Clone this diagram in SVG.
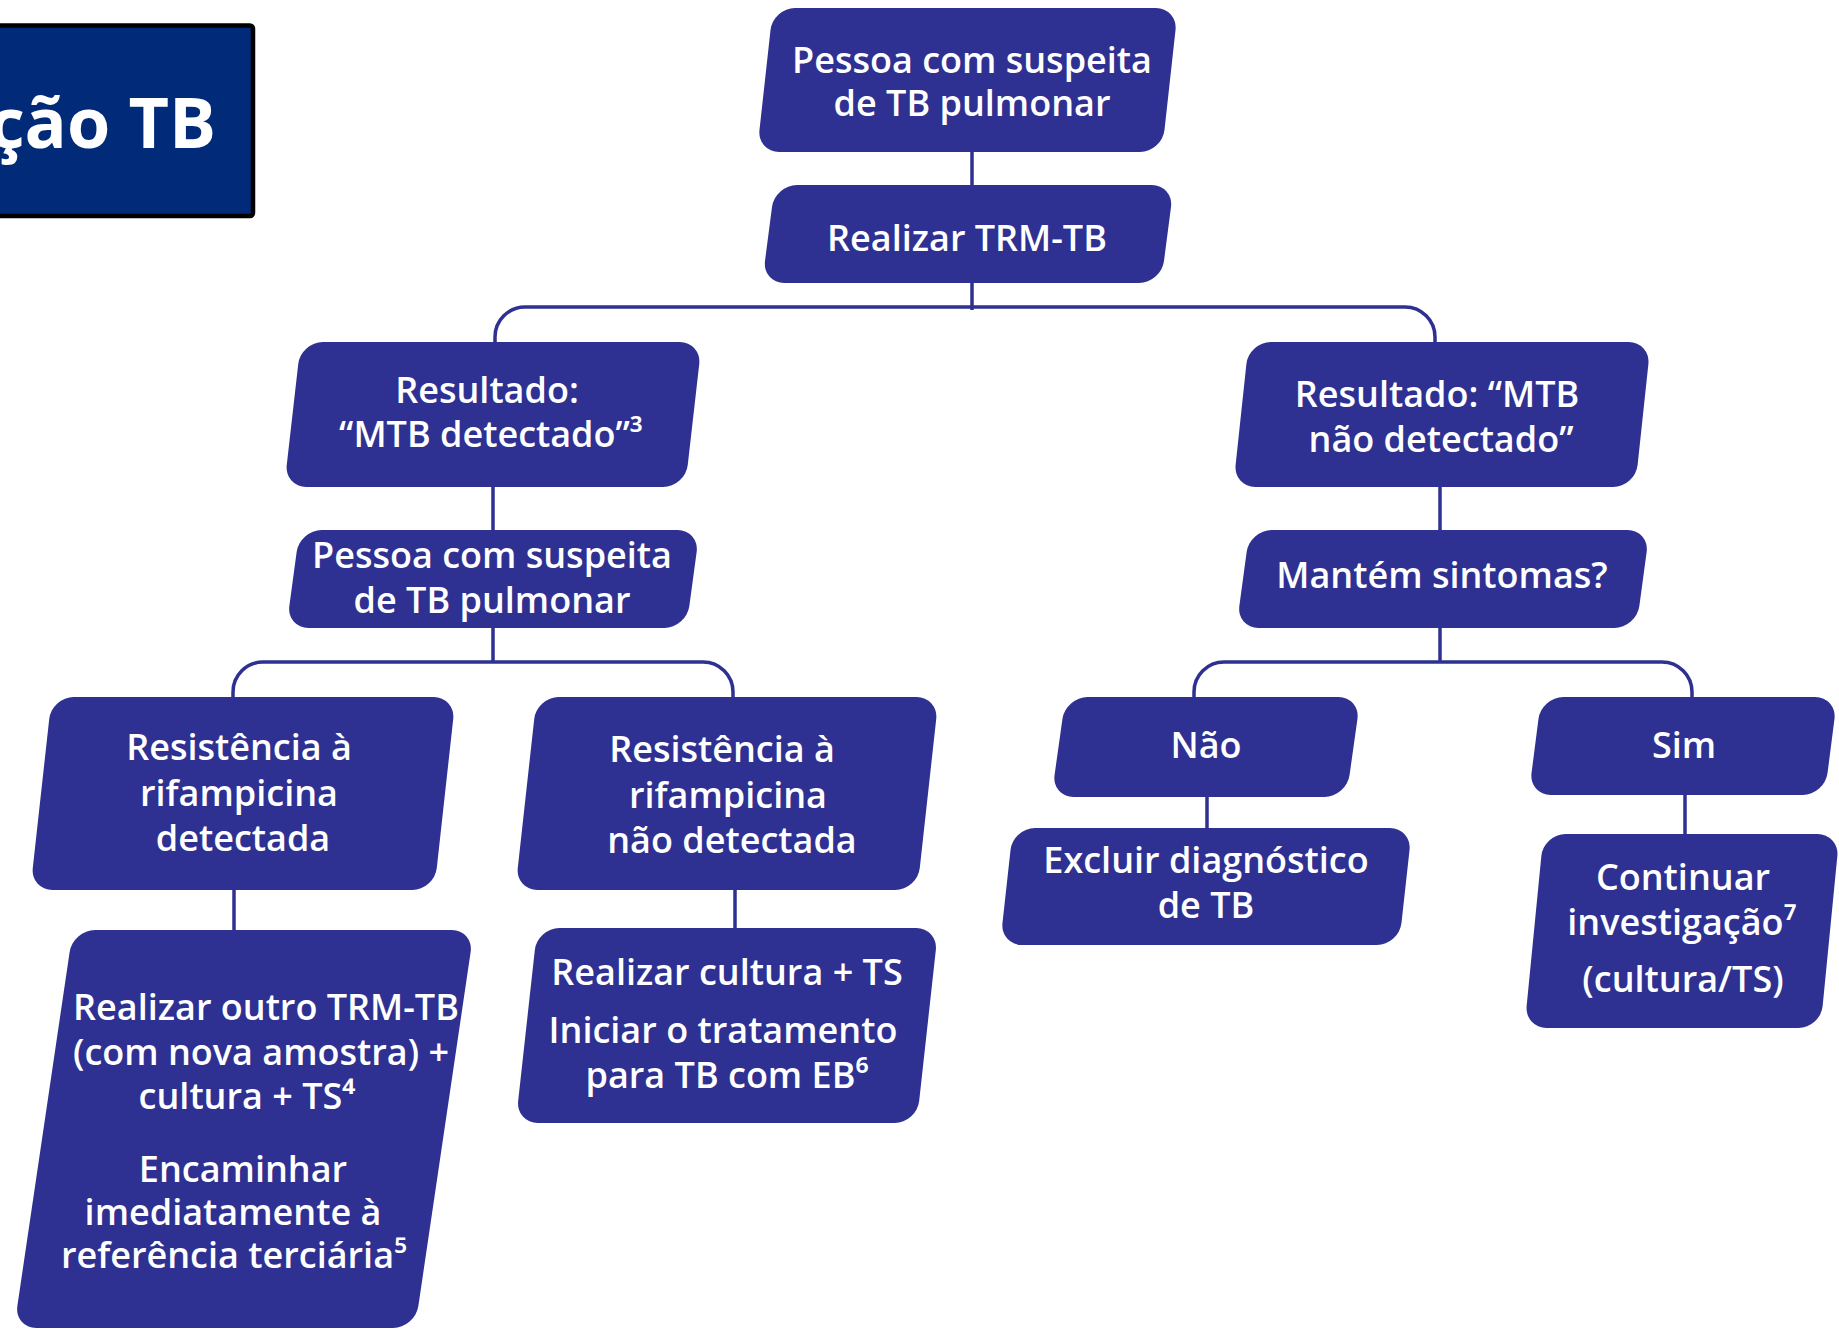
<svg xmlns="http://www.w3.org/2000/svg" width="1839" height="1329" viewBox="0 0 1839 1329">
<style>
.node{fill:#2e3192}
.lbl{font-family:"Open Sans","Noto Sans","Liberation Sans",sans-serif;font-weight:600;font-size:36px;fill:#ffffff;text-anchor:middle}
.conn{fill:none;stroke:#2e3192;stroke-width:3.5}
.title{font-family:"Open Sans","Liberation Sans",sans-serif;font-weight:700;font-size:70px;fill:#ffffff;text-anchor:end}
</style>
<rect width="1839" height="1329" fill="#ffffff"/>
<g id="title">
<rect x="-10" y="25.5" width="263" height="190.5" rx="3" fill="#012a78" stroke="#000000" stroke-width="4.5"/>
<text class="title" x="216" y="148">ção TB</text>
</g>
<g id="connectors">
<path class="conn" d="M972 150V187"/>
<path class="conn" d="M972 281V310"/>
<path class="conn" d="M495 344V337A30 30 0 0 1 525 307H1405A30 30 0 0 1 1435 337V344"/>
<path class="conn" d="M493 485V532"/>
<path class="conn" d="M493 626V662"/>
<path class="conn" d="M1440 485V532"/>
<path class="conn" d="M1440 626V662"/>
<path class="conn" d="M233 699V692A30 30 0 0 1 263 662H703A30 30 0 0 1 733 692V699"/>
<path class="conn" d="M1194 699V692A30 30 0 0 1 1224 662H1662A30 30 0 0 1 1692 692V699"/>
<path class="conn" d="M234 888V932"/>
<path class="conn" d="M735 888V930"/>
<path class="conn" d="M1207 795V830"/>
<path class="conn" d="M1685 793V836"/>
</g>
<g id="n1">
<rect class="node" transform="translate(967.5 80) skewX(-6.3)" x="-202.5" y="-72" width="405" height="144" rx="22"/>
<text class="lbl" x="972" y="73">Pessoa com suspeita</text>
<text class="lbl" x="972" y="116">de TB pulmonar</text>
</g>
<g id="n2">
<rect class="node" transform="translate(968 234) skewX(-7.4)" x="-199.5" y="-49" width="399" height="98" rx="22"/>
<text class="lbl" x="967" y="251">Realizar TRM-TB</text>
</g>
<g id="n3">
<rect class="node" transform="translate(493 414.5) skewX(-6.5)" x="-200.5" y="-72.5" width="401" height="145" rx="22"/>
<text class="lbl" x="487" y="403">Resultado:</text>
<text class="lbl" x="491" y="447">“MTB detectado”³</text>
</g>
<g id="n4">
<rect class="node" transform="translate(493 579) skewX(-7.7)" x="-200" y="-49" width="400" height="98" rx="22"/>
<text class="lbl" x="492" y="568">Pessoa com suspeita</text>
<text class="lbl" x="492" y="613">de TB pulmonar</text>
</g>
<g id="n9">
<rect class="node" transform="translate(1442 414.5) skewX(-6.1)" x="-201" y="-72.5" width="402" height="145" rx="22"/>
<text class="lbl" x="1437" y="407">Resultado: “MTB</text>
<text class="lbl" x="1441" y="452">não detectado”</text>
</g>
<g id="n10">
<rect class="node" transform="translate(1443 579) skewX(-7.7)" x="-200" y="-49" width="400" height="98" rx="22"/>
<text class="lbl" x="1442" y="588">Mantém sintomas?</text>
</g>
<g id="n5">
<rect class="node" transform="translate(243 793.5) skewX(-6.3)" x="-202" y="-96.5" width="404" height="193" rx="22"/>
<text class="lbl" x="239" y="760">Resistência à</text>
<text class="lbl" x="239" y="806">rifampicina</text>
<text class="lbl" x="243" y="851">detectada</text>
</g>
<g id="n6">
<rect class="node" transform="translate(727 793.5) skewX(-6.3)" x="-201" y="-96.5" width="402" height="193" rx="22"/>
<text class="lbl" x="722" y="762">Resistência à</text>
<text class="lbl" x="728" y="808">rifampicina</text>
<text class="lbl" x="732" y="853">não detectada</text>
</g>
<g id="n7">
<rect class="node" transform="translate(244 1129) skewX(-8.4)" x="-200.5" y="-199" width="401" height="398" rx="22"/>
<text class="lbl" x="266" y="1020">Realizar outro TRM-TB</text>
<text class="lbl" x="261" y="1065">(com nova amostra) +</text>
<text class="lbl" x="247" y="1109">cultura + TS⁴</text>
<text class="lbl" x="243" y="1182">Encaminhar</text>
<text class="lbl" x="233" y="1225">imediatamente à</text>
<text class="lbl" x="234" y="1268">referência terciária⁵</text>
</g>
<g id="n8">
<rect class="node" transform="translate(727 1025.5) skewX(-6.3)" x="-200.5" y="-97.5" width="401" height="195" rx="22"/>
<text class="lbl" x="727" y="985">Realizar cultura + TS</text>
<text class="lbl" x="723" y="1043">Iniciar o tratamento</text>
<text class="lbl" x="727" y="1088">para TB com EB⁶</text>
</g>
<g id="n11">
<rect class="node" transform="translate(1206 747) skewX(-8)" x="-147.5" y="-50" width="295" height="100" rx="22"/>
<text class="lbl" x="1206" y="758">Não</text>
</g>
<g id="n12">
<rect class="node" transform="translate(1206 886.5) skewX(-6.3)" x="-199.5" y="-58.5" width="399" height="117" rx="22"/>
<text class="lbl" x="1206" y="873">Excluir diagnóstico</text>
<text class="lbl" x="1206" y="918">de TB</text>
</g>
<g id="n13">
<rect class="node" transform="translate(1683 746) skewX(-7.3)" x="-148" y="-49" width="296" height="98" rx="22"/>
<text class="lbl" x="1684" y="758">Sim</text>
</g>
<g id="n14">
<rect class="node" transform="translate(1682 931) skewX(-5.6)" x="-148" y="-97" width="296" height="194" rx="22"/>
<text class="lbl" x="1683" y="890">Continuar</text>
<text class="lbl" x="1682" y="935">investigação⁷</text>
<text class="lbl" x="1683" y="992">(cultura/TS)</text>
</g>
</svg>
